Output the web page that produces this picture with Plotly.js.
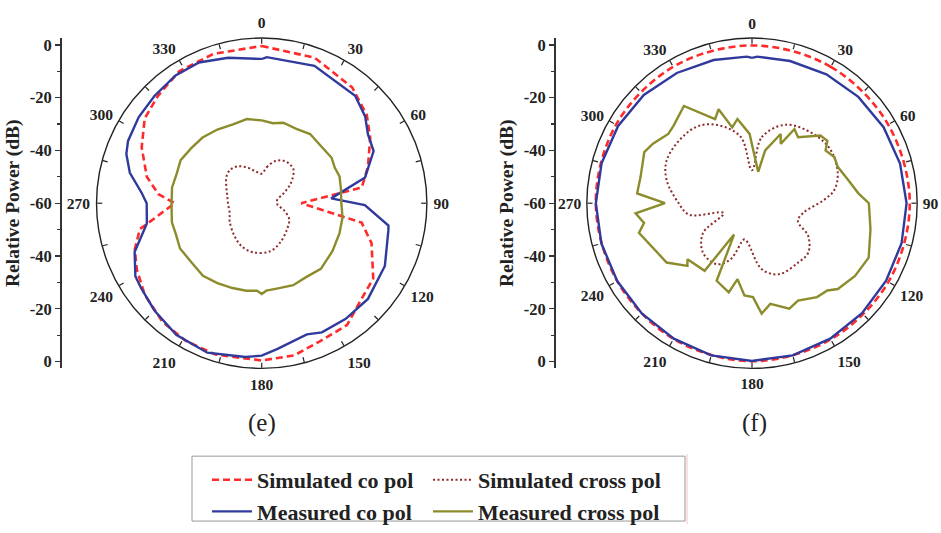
<!DOCTYPE html>
<html>
<head>
<meta charset="utf-8">
<script src="https://cdn.plot.ly/plotly-3.0.1.min.js"></script>
<style>html,body{margin:0;padding:0;background:#fff;}#chart{width:941px;height:533px;}</style>
</head>
<body>
<div id="chart"></div>
<script>
// ---------- Panel (e) ----------
const eSimCoTheta = [0,20,38,50,59,71,81,90,101,110,124,135,145,157,168,180,197,209,220,232,242,250,258,262,270,275,283,295,306,316,328,342,360];
const eSimCoR     = [-0.4,-1.3,-4.3,-8,-12,-17.4,-21.6,-45,-21.4,-15.7,-9,-7.3,-3.6,-3.2,-1,-0.4,0,-0.4,-1.4,-3.7,-6.4,-8.8,-12.8,-19,-27,-20.7,-15.3,-9.8,-5.2,-3.4,-1,-0.5,-0.4];

const eMeaCoTheta = [0.5,2,21,41,50,57,65,76,86,91,100,102,117,132,144,155,161,174,180,186,200,213,225,235,240,249,260,270,275,283,290,295,305,315,326,336,347,359.5,360.5];
const eMeaCoR     = [-5.2,-4.6,-4.2,-6,-8.8,-12,-13.2,-19.6,-33.6,-20.9,-11.2,-10.9,-7.6,-5.8,-5.8,-6,-7.4,-4.4,-2.2,-1.4,0.3,-0.5,-2.5,-4.1,-4.7,-8.4,-15.8,-16.4,-14.3,-8.7,-5.4,-4.1,-3.1,-2.5,-1.6,-1.6,-3.4,-5.3,-5.2];

const eSimXTheta = [0,8,18,27,36,44,56,66,78,95,107,120,136,155,170,190,205,220,240,253,270,284,295,306,316,326,337,348,360];
const eSimXR     = [-48.8,-46.2,-43.2,-41.9,-41.8,-42.6,-46.8,-51,-54,-54,-51.3,-48,-46.2,-43.5,-41.5,-41.1,-42,-43.9,-46,-47.3,-47.2,-46.5,-45.2,-43.4,-42.6,-43.2,-45.2,-47.5,-48.8];

const eMeaXTheta = [0,8,15,25,35,46,57,64,71,80,90,100,111,124,138,149,159,170,177,180,183,190,199,209,219,230,241,250,258,269,280,289,298,308,318,329,340,350,360];
const eMeaXR     = [-28.6,-29.4,-28.4,-28.9,-28,-28.8,-28.4,-29.2,-28.8,-29.5,-29.8,-28.9,-28.4,-27.6,-26.5,-27.3,-26.7,-27.1,-26.8,-25.6,-26.8,-26.3,-26,-25.4,-24.6,-25.2,-24.6,-25.4,-25.2,-25.8,-25.5,-25.9,-25.2,-26.1,-26.5,-27.4,-28.2,-27.6,-28.6];

// ---------- Panel (f) ----------
const fSimCoTheta = [0,30,60,90,120,150,180,210,240,270,300,330,360];
const fSimCoR     = [-0.2,-0.3,-0.4,-0.2,-0.3,-0.4,-0.1,-0.6,-1.0,-0.8,-0.5,-0.3,-0.2];

const fMeaCoTheta = [0,2,15,30,45,60,75,90,105,120,135,150,165,180,195,210,225,240,255,270,285,300,315,330,345,358,360];
const fMeaCoR     = [-4.9,-4.4,-4.2,-3.6,-3.0,-2.4,-1.9,-1.4,-1.3,-1.3,-1.0,-0.7,-0.3,-0.2,-0.3,-0.7,-0.9,-1.0,-0.9,-0.8,-1.0,-1.4,-2.0,-3.0,-3.8,-4.4,-4.9];

const fSimXTheta = [0,8.4,23.3,41.6,56.2,70.9,80.9,87.4,100.9,111.5,120.3,131.3,142.2,159.2,171.6,186,191.8,201,210,224.8,238.8,250.8,259.6,270,285.1,296.7,313.4,325.9,337.7,350.5,360];
const fSimXR     = [-47.5,-34.7,-27.6,-24.9,-24,-25.6,-28.4,-32.7,-40.3,-41.3,-35.3,-31.6,-31.5,-31.2,-34.7,-44.9,-46,-37.2,-33.3,-33.6,-38.3,-48.6,-35.8,-32.2,-26.5,-23.8,-23.6,-24.5,-28.2,-34.6,-47.5];

const fMeaXTheta = [11.2,14,22.5,25.8,29.8,34.9,45.3,50.3,54.4,60.7,67,76.5,84.7,90,102.5,115,125.2,135,139.2,145.3,154.7,160.5,169.7,175,179.4,184.7,190.8,194.6,204.5,209.8,215,229,225.9,235.2,255.3,259.6,265,270,274.9,283.3,295.4,301,309.6,314.6,325,336.3,340.4,345.4,350.2,358,371.2];
const fMeaXR     = [-47.9,-39.4,-31.6,-35,-27.6,-29.5,-23.5,-22.9,-25.7,-24.2,-24.7,-22.5,-19.5,-15.7,-14,-11.2,-12.2,-14,-16.3,-16.7,-19.2,-17.6,-21.2,-18,-24.4,-24.9,-30.7,-25.1,-27.7,-46.3,-28.7,-27.6,-25.9,-20.6,-15.7,-18.4,-15.7,-27,-16.3,-16.6,-14.8,-16.2,-18.8,-18.2,-15,-25.2,-22.2,-30.3,-27.6,-33.7,-47.9];

// ---------- Axis labels ----------
const angleTickVals = [0,15,30,45,60,75,90,105,120,135,150,165,180,195,210,225,240,255,270,285,300,315,330,345];
const angleTickText = ['0','','30','','60','','90','','120','','150','','180','','210','','240','','270','','300','','330',''];
const powerTickVals = [-60,-40,-20,0,20,40,60];
const powerTickText = ['0','-20','-40','-60','-40','-20','0'];
const powerMinorVals = [-50,-30,-10,10,30,50];
const seriesNames = ['Simulated co pol','Simulated cross pol','Measured co pol','Measured cross pol'];
const panelLabels = ['(e)','(f)'];

const W = 941, H = 533;
const serif = 'Liberation Serif, Times New Roman, serif';
const ink = '#222';

const styles = {
  simCo:  {color:'#ff2a2a', width:2.6, dash:'7px,4px'},
  meaCo:  {color:'#2f3a9c', width:2.4},
  simX:   {color:'#8e2a2a', width:2, dash:'2px,2.5px'},
  meaX:   {color:'#8c8c2c', width:2.4}
};

function tr(theta, r, name, style, subplot, show, legend){
  return {type:'scatterpolar', mode:'lines', theta:theta, r:r, name:name,
    line:Object.assign({shape:'linear'}, style), subplot:subplot,
    showlegend:show, legend:legend, hoverinfo:'skip'};
}
function emptyPolar(subplot){
  return {type:'scatterpolar', mode:'lines', theta:[], r:[], subplot:subplot, showlegend:false, hoverinfo:'skip'};
}

const data = [
  tr(eSimCoTheta, eSimCoR, seriesNames[0], styles.simCo, 'polar', true, 'legend'),
  tr(eMeaCoTheta, eMeaCoR, seriesNames[2], styles.meaCo, 'polar', true, 'legend'),
  tr(eSimXTheta, eSimXR, seriesNames[1], Object.assign({}, styles.simX, {shape:'spline'}), 'polar', true, 'legend2'),
  tr(eMeaXTheta, eMeaXR, seriesNames[3], styles.meaX, 'polar', true, 'legend2'),
  tr(fSimCoTheta, fSimCoR, seriesNames[0], Object.assign({}, styles.simCo, {shape:'spline'}), 'polar2', false, 'legend'),
  tr(fMeaCoTheta, fMeaCoR, seriesNames[2], styles.meaCo, 'polar2', false, 'legend'),
  tr(fSimXTheta, fSimXR, seriesNames[1], Object.assign({}, styles.simX, {shape:'spline'}), 'polar2', false, 'legend2'),
  tr(fMeaXTheta, fMeaXR, seriesNames[3], styles.meaX, 'polar2', false, 'legend2'),
  emptyPolar('polar3'),
  emptyPolar('polar4'),
  {type:'scatter', x:[], y:[], xaxis:'x', yaxis:'y', showlegend:false, hoverinfo:'skip'},
  {type:'scatter', x:[], y:[], xaxis:'x', yaxis:'y2', showlegend:false, hoverinfo:'skip'}
];

const R = 168, CY = 206.7;
const rMax = -60 + R/161*60;
function polarDomain(cx){
  return {x:[(cx-R)/W, (cx+R)/W], y:[(H-CY-R)/H, (H-CY+R)/H]};
}
// data subplot: circle + inside ticks, no labels
function polarLayout(cx){
  return {
    domain: polarDomain(cx),
    bgcolor:'rgba(0,0,0,0)',
    radialaxis:{visible:false, range:[-60, rMax]},
    angularaxis:{direction:'clockwise', rotation:90, showgrid:false,
      tickmode:'array', tickvals:angleTickVals, ticktext:angleTickText,
      ticks:'inside', ticklen:5, tickwidth:1.2, tickcolor:ink,
      showticklabels:false,
      showline:true, linecolor:ink, linewidth:1.4}
  };
}
// label subplot: same circle, labels pushed outward by invisible outside ticks
function labelLayout(cx, push){
  return {
    domain: polarDomain(cx),
    bgcolor:'rgba(0,0,0,0)',
    radialaxis:{visible:false, range:[-60, rMax]},
    angularaxis:{direction:'clockwise', rotation:90, showgrid:false,
      tickmode:'array', tickvals:angleTickVals, ticktext:angleTickText,
      ticks:'outside', ticklen:push, tickcolor:'rgba(0,0,0,0)',
      showline:false,
      tickfont:{family:serif, size:15.5, color:ink, weight:'bold'}}
  };
}
const yRange = 60*R/161;
function powerAxis(xpx){
  return {
    anchor:'free', position:xpx/W,
    domain:[(H-CY-R)/H, (H-CY+R)/H], range:[-yRange, yRange],
    tickmode:'array', tickvals:powerTickVals, ticktext:powerTickText,
    ticks:'outside', ticklen:5, tickwidth:1.3, tickcolor:'#333',
    minor:{tickmode:'array', tickvals:powerMinorVals, ticks:'outside', ticklen:3, tickwidth:1.2, tickcolor:'#333'},
    showline:true, linecolor:'#333', linewidth:1.5, showgrid:false, zeroline:false,
    tickfont:{family:serif, size:16.5, color:ink, weight:'bold'},
    title:{text:'Relative Power (dB)', font:{family:serif, size:19.5, color:ink, weight:'bold'}, standoff:3},
    fixedrange:true
  };
}

const CXE = 261.7, CXF = 752;
const legendFont = {family:serif, size:22, color:ink, weight:'bold'};
const layout = {
  width:W, height:H, margin:{l:0,r:0,t:0,b:0},
  paper_bgcolor:'#fff', plot_bgcolor:'rgba(0,0,0,0)',
  showlegend:true,
  polar: polarLayout(CXE),
  polar2: polarLayout(CXF),
  polar3: labelLayout(CXE, 3),
  polar4: labelLayout(CXF, 2),
  xaxis:{domain:[0.3,0.31], visible:false, range:[0,1], fixedrange:true},
  yaxis: powerAxis(60),
  yaxis2: powerAxis(554),
  legend:{x:207/W, y:(H-467)/H, xanchor:'left', yanchor:'top', bgcolor:'rgba(0,0,0,0)', borderwidth:0, font:legendFont, tracegroupgap:0, itemwidth:40},
  legend2:{x:428/W, y:(H-467)/H, xanchor:'left', yanchor:'top', bgcolor:'rgba(0,0,0,0)', borderwidth:0, font:legendFont, tracegroupgap:0, itemwidth:40},
  shapes:[
    {type:'rect', xref:'paper', yref:'paper', x0:192/W, x1:685/W, y0:(H-530)/H, y1:(H-464)/H, line:{color:'#9a9a9a', width:1}},
    {type:'line', xref:'paper', yref:'paper', x0:687/W, x1:687/W, y0:0, y1:(H-462)/H, line:{color:'#f3c4c4', width:1}}
  ],
  annotations:[
    {text:panelLabels[0], x:CXE/W, y:(H-430)/H, xref:'paper', yref:'paper', showarrow:false, xanchor:'center', yanchor:'middle', font:{family:serif, size:25, color:ink}},
    {text:panelLabels[1], x:754/W, y:(H-430)/H, xref:'paper', yref:'paper', showarrow:false, xanchor:'center', yanchor:'middle', font:{family:serif, size:25, color:ink}}
  ]
};

Plotly.newPlot('chart', data, layout, {staticPlot:true, displayModeBar:false});
</script>
</body>
</html>
